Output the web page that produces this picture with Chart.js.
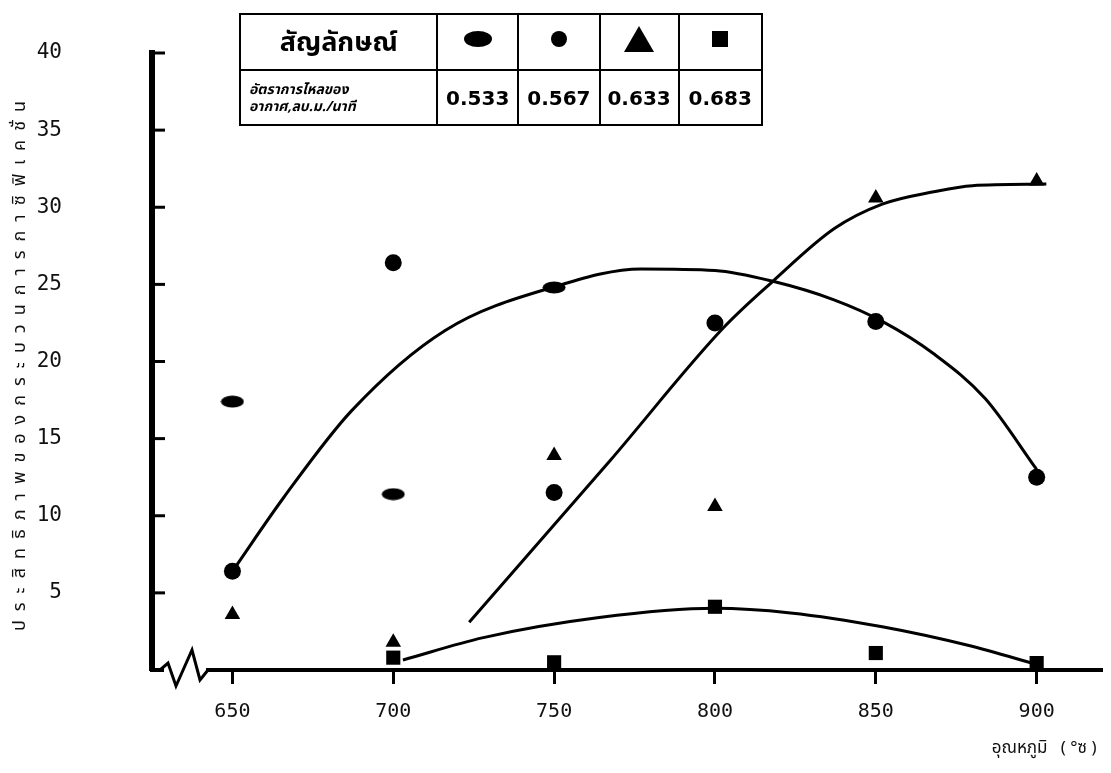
<!DOCTYPE html>
<html>
<head>
<meta charset="utf-8">
<script src="https://cdn.jsdelivr.net/npm/chart.js@4.4.0/dist/chart.umd.min.js"></script>
<style>
  body { margin: 0; background: #fff; }
  #wrap { position: relative; width: 1111px; height: 773px; }
  #legendTable {
    position: absolute; left: 239px; top: 13px; width: 524px; height: 113px;
    border-collapse: collapse; font-family: "Noto Sans Thai", "Noto Sans", sans-serif;
  }
  #legendTable td { border: 2.5px solid #000; text-align: center; padding: 0; color: #000; }
  .head { font-size: 27px; font-weight: bold; }
  .sub { font-size: 14px; font-weight: bold; font-style: italic; text-align: left !important; padding-left: 8px !important; line-height: 17px; }
  .val { font-family: "DejaVu Sans", sans-serif; font-size: 20px; font-weight: bold; }
</style>
</head>
<body>
<div id="wrap">
  <canvas id="chart" width="1111" height="773"></canvas>
  <table id="legendTable">
    <tr style="height:56px">
      <td class="head" style="width:202px">สัญลักษณ์</td>
      <td style="width:80px"><svg width="34" height="20"><ellipse cx="17" cy="10" rx="14" ry="8" fill="#000"/></svg></td>
      <td style="width:81px"><svg width="20" height="20"><circle cx="10" cy="10" r="8" fill="#000"/></svg></td>
      <td style="width:78px"><svg width="34" height="30"><polygon points="17,2 32,28 2,28" fill="#000"/></svg></td>
      <td style="width:83px"><svg width="20" height="20"><rect x="2" y="2" width="16" height="16" fill="#000"/></svg></td>
    </tr>
    <tr>
      <td class="sub">อัตราการไหลของ<br>อากาศ,ลบ.ม./นาที</td>
      <td class="val" id="f0"></td>
      <td class="val" id="f1"></td>
      <td class="val" id="f2"></td>
      <td class="val" id="f3"></td>
    </tr>
  </table>
</div>
<script>
// อุณหภูมิ (°C)
const temps = [650, 700, 750, 800, 850, 900];
const airFlow = ['0.533', '0.567', '0.633', '0.683'];

// measured points, one value per temperature (null = no point)
const ovalY   = [17.4, 11.4, 24.8, null, null, null];
const circleY = [6.4, 26.4, 11.5, 22.5, 22.6, 12.5];
const triY    = [3.6, 1.8, 13.9, 10.6, 30.6, 31.7];
const squareY = [null, 0.8, 0.5, 4.1, 1.1, 0.45];

// hand-drawn fitted curves
const domeX = [650, 666, 687, 716, 751, 777, 800, 818, 837, 852, 868, 884, 900];
const domeY = [6.4, 11.2, 16.8, 22.0, 24.9, 26.0, 25.9, 25.2, 24.0, 22.6, 20.5, 17.6, 13.0];
const riseX = [723.6, 767.5, 802.7, 818, 837, 852, 868, 880, 903];
const riseY = [3.1, 13.6, 22.2, 25.2, 28.6, 30.2, 31.0, 31.4, 31.5];
const lowX  = [703, 728, 764, 800, 823.5, 852, 878.6, 901];
const lowY  = [0.65, 2.1, 3.4, 4.0, 3.7, 2.8, 1.6, 0.3];

const yTicks = [5, 10, 15, 20, 25, 30, 35, 40];

airFlow.forEach((v, i) => { document.getElementById('f' + i).textContent = v; });

const pairs = (xs, ys) => xs.map((x, i) => ({ x: x, y: ys[i] })).filter(p => p.y !== null);

// oval marker
const oval = document.createElement('canvas');
oval.width = 24; oval.height = 13;
const octx = oval.getContext('2d');
octx.fillStyle = '#000';
octx.beginPath();
octx.ellipse(12, 6.5, 11.5, 6, 0, 0, Math.PI * 2);
octx.fill();

const curve = (xs, ys) => ({
  type: 'line',
  data: pairs(xs, ys),
  borderColor: '#000',
  borderWidth: 3,
  pointRadius: 0,
  fill: false,
  cubicInterpolationMode: 'monotone',
});

const marks = (ys, style, r) => ({
  type: 'scatter',
  data: pairs(temps, ys),
  pointStyle: style,
  pointRadius: r,
  backgroundColor: '#000',
  borderColor: '#000',
  borderWidth: 0,
});

const axisDecor = {
  id: 'axisDecor',
  afterLayout(chart) {
    // typewriter-like spacing for the y title
    const y = chart.scales.y;
    if (!y._spaced) {
      const orig = y.drawTitle.bind(y);
      y.drawTitle = function () {
        this.ctx.save();
        this.ctx.letterSpacing = '9px';
        orig();
        this.ctx.restore();
      };
      y._spaced = true;
    }
  },
  afterDraw(chart) {
    const { ctx, chartArea, scales: { y } } = chart;
    ctx.save();
    ctx.strokeStyle = '#000';
    ctx.lineWidth = 3;
    yTicks.forEach(v => {
      const py = y.getPixelForValue(v);
      ctx.beginPath();
      ctx.moveTo(chartArea.left, py);
      ctx.lineTo(chartArea.left + 13, py);
      ctx.stroke();
    });
    // axis break
    const l = chartArea.left, b = chartArea.bottom;
    ctx.fillStyle = '#fff';
    ctx.fillRect(l + 12, b - 4, 42, 8);
    ctx.beginPath();
    ctx.moveTo(l + 8, b);
    ctx.lineTo(l + 16, b - 7);
    ctx.lineTo(l + 24, b + 16);
    ctx.lineTo(l + 40, b - 20);
    ctx.lineTo(l + 48, b + 10);
    ctx.lineTo(l + 56, b);
    ctx.stroke();
    ctx.restore();
  }
};

new Chart(document.getElementById('chart'), {
  type: 'scatter',
  data: {
    datasets: [
      curve(domeX, domeY),
      curve(riseX, riseY),
      curve(lowX, lowY),
      marks(ovalY, oval, 7),
      marks(circleY, 'circle', 8.5),
      marks(triY, 'triangle', 9),
      marks(squareY, 'rect', 10),
    ],
  },
  options: {
    responsive: false,
    animation: false,
    layout: { padding: { top: 53, right: 0, left: 0, bottom: 0 } },
    plugins: { legend: { display: false }, tooltip: { enabled: false } },
    scales: {
      x: {
        type: 'linear',
        min: 625,
        max: 920,
        afterBuildTicks: (s) => { s.ticks = temps.map(v => ({ value: v })); },
        afterFit: (s) => { s.height = 103; s.paddingLeft = 0; s.paddingRight = 0; },
        grid: { drawOnChartArea: false, drawTicks: true, tickLength: 14, color: '#000', lineWidth: 3 },
        border: { display: true, color: '#000', width: 4 },
        ticks: {
          color: '#111',
          padding: 16,
          font: { family: '"DejaVu Sans Mono", monospace', size: 20 },
          callback: (v) => String(v),
        },
        title: {
          display: true,
          text: 'อุณหภูมิ   ( °ซ ) ',
          align: 'end',
          color: '#111',
          font: { family: '"Noto Sans Thai", "Noto Sans", sans-serif', size: 17 },
          padding: { top: 0, bottom: 13 },
        },
      },
      y: {
        min: 0,
        max: 40,
        afterBuildTicks: (s) => { s.ticks = yTicks.map(v => ({ value: v })); },
        afterFit: (s) => { s.width = 152; s.paddingTop = 0; s.paddingBottom = 0; },
        grid: { display: false, drawTicks: false },
        border: { display: true, color: '#000', width: 6 },
        ticks: {
          color: '#111',
          padding: 90,
          font: { family: '"DejaVu Sans Mono", monospace', size: 21 },
        },
        title: {
          display: true,
          text: 'ประสิทธิภาพของกระบวนการกาซิฟิเคชั่น',
          color: '#111',
          font: { family: '"Noto Sans Thai", "Noto Sans", sans-serif', size: 18 },
          padding: { top: 11, bottom: 0 },
        },
      },
    },
  },
  plugins: [axisDecor],
});
</script>
</body>
</html>
